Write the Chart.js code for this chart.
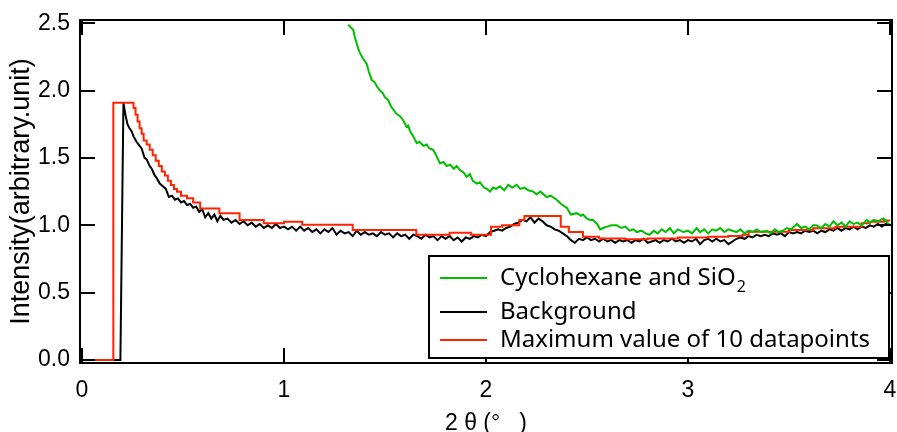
<!DOCTYPE html>
<html>
<head>
<meta charset="utf-8">
<script src="https://cdn.jsdelivr.net/npm/chart.js@4.4.1/dist/chart.umd.min.js"></script>
<style>
  html, body { margin: 0; padding: 0; background: #fff; }
  #wrap { width: 897px; height: 432px; }
</style>
</head>
<body>
<div id="wrap"><canvas id="myChart" width="897" height="432"></canvas></div>
<script>
// values (2theta in degrees, intensity in arbitrary units)
const seriesNames = ['Cyclohexane and SiO', 'Background', 'Maximum value of 10 datapoints'];
const xTickVals = [0, 1, 2, 3, 4];
const yTickVals = [0, 0.5, 1.0, 1.5, 2.0, 2.5];

const greenX = [1.318, 1.33, 1.343, 1.35, 1.36, 1.37, 1.376, 1.39, 1.409, 1.42, 1.434, 1.45, 1.46, 1.475, 1.49, 1.50,
  1.516, 1.53, 1.541, 1.555, 1.574, 1.59, 1.607, 1.615, 1.624, 1.64, 1.657, 1.67, 1.69, 1.706, 1.72, 1.739,
  1.75, 1.772, 1.79, 1.805, 1.822, 1.84, 1.855, 1.871, 1.89, 1.904, 1.92, 1.935, 1.954, 1.97, 1.99, 2.005,
  2.02, 2.035, 2.05, 2.069, 2.09, 2.11, 2.13, 2.152, 2.17, 2.19, 2.21, 2.234, 2.25, 2.27, 2.30, 2.32,
  2.35, 2.37, 2.40, 2.42, 2.45, 2.47, 2.48, 2.50, 2.515, 2.53, 2.55, 2.565, 2.58, 2.60, 2.62, 2.647,
  2.67, 2.69, 2.71, 2.73, 2.746, 2.77, 2.79, 2.81, 2.83, 2.85, 2.87, 2.89, 2.91, 2.93, 2.95, 2.977,
  3.00, 3.02, 3.043, 3.06, 3.08, 3.10, 3.12, 3.14, 3.16, 3.18, 3.20, 3.22, 3.24, 3.26, 3.28, 3.30,
  3.32, 3.34, 3.36, 3.39, 3.41, 3.43, 3.45, 3.47, 3.49, 3.51, 3.54, 3.56, 3.58, 3.60, 3.62, 3.636,
  3.66, 3.68, 3.70, 3.72, 3.74, 3.76, 3.78, 3.80, 3.82, 3.84, 3.86, 3.884, 3.90, 3.92, 3.94, 3.967,
  3.98, 4.00];
const greenY = [2.49, 2.47, 2.45, 2.40, 2.35, 2.30, 2.28, 2.24, 2.20, 2.14, 2.08, 2.06, 2.03, 2.00, 1.98, 1.95,
  1.93, 1.88, 1.86, 1.83, 1.81, 1.78, 1.73, 1.74, 1.70, 1.66, 1.61, 1.62, 1.59, 1.60, 1.57, 1.56,
  1.53, 1.46, 1.47, 1.44, 1.45, 1.42, 1.44, 1.41, 1.39, 1.36, 1.38, 1.33, 1.31, 1.32, 1.28, 1.27,
  1.25, 1.28, 1.27, 1.29, 1.26, 1.30, 1.28, 1.30, 1.27, 1.28, 1.26, 1.25, 1.23, 1.25, 1.21, 1.22,
  1.19, 1.16, 1.13, 1.08, 1.09, 1.07, 1.08, 1.05, 1.04, 1.04, 1.01, 0.97, 0.98, 0.99, 1.00, 1.00,
  0.98, 0.99, 0.96, 0.97, 0.95, 0.96, 0.94, 0.93, 0.96, 0.94, 0.97, 0.95, 0.98, 0.94, 0.97, 0.95,
  0.96, 0.94, 0.98, 0.95, 0.97, 0.94, 0.97, 0.96, 0.98, 0.95, 0.97, 0.96, 0.95, 0.97, 0.94, 0.96,
  0.95, 0.97, 0.95, 0.96, 0.94, 0.97, 0.95, 0.96, 0.98, 0.97, 1.01, 0.98, 0.99, 0.97, 1.00, 1.00,
  0.98, 1.01, 0.99, 1.03, 1.00, 1.02, 0.99, 1.03, 1.01, 1.02, 1.00, 1.04, 1.02, 1.04, 1.03, 1.05,
  1.03, 1.00];

const bgX = [0, 0.19, 0.205, 0.215, 0.225, 0.235, 0.245, 0.255, 0.27, 0.285, 0.295, 0.31, 0.32, 0.335, 0.345, 0.36,
  0.37, 0.385, 0.40, 0.415, 0.43, 0.445, 0.46, 0.475, 0.49, 0.505, 0.52, 0.535, 0.55, 0.565, 0.58, 0.595,
  0.61, 0.625, 0.64, 0.655, 0.67, 0.685, 0.70, 0.72, 0.74, 0.76, 0.78, 0.80, 0.82, 0.84, 0.86, 0.88,
  0.90, 0.92, 0.94, 0.96, 0.98, 1.00, 1.02, 1.04, 1.06, 1.08, 1.10, 1.12, 1.14, 1.16, 1.18, 1.20,
  1.22, 1.24, 1.26, 1.28, 1.30, 1.32, 1.34, 1.36, 1.38, 1.40, 1.42, 1.44, 1.46, 1.48, 1.50, 1.52,
  1.54, 1.56, 1.58, 1.60, 1.62, 1.64, 1.66, 1.68, 1.70, 1.72, 1.74, 1.76, 1.78, 1.80, 1.82, 1.84,
  1.86, 1.88, 1.90, 1.92, 1.94, 1.96, 1.98, 2.00, 2.02, 2.04, 2.06, 2.08, 2.10, 2.12, 2.14, 2.16,
  2.18, 2.20, 2.22, 2.24, 2.26, 2.28, 2.30, 2.32, 2.34, 2.36, 2.38, 2.40, 2.42, 2.44, 2.46, 2.48,
  2.50, 2.52, 2.54, 2.56, 2.58, 2.60, 2.62, 2.64, 2.66, 2.68, 2.70, 2.72, 2.74, 2.76, 2.78, 2.80,
  2.82, 2.84, 2.86, 2.88, 2.90, 2.92, 2.94, 2.96, 2.98, 3.00, 3.02, 3.04, 3.06, 3.08, 3.10, 3.12,
  3.14, 3.16, 3.18, 3.20, 3.22, 3.24, 3.26, 3.28, 3.30, 3.32, 3.34, 3.36, 3.38, 3.40, 3.42, 3.44,
  3.46, 3.48, 3.50, 3.52, 3.54, 3.56, 3.58, 3.60, 3.62, 3.64, 3.66, 3.68, 3.70, 3.72, 3.74, 3.76,
  3.78, 3.80, 3.82, 3.84, 3.86, 3.88, 3.90, 3.92, 3.94, 3.96, 3.98, 4.00];
const bgY = [0, 0, 1.91, 1.82, 1.75, 1.72, 1.70, 1.66, 1.62, 1.59, 1.57, 1.50, 1.49, 1.44, 1.42, 1.37,
  1.35, 1.31, 1.29, 1.27, 1.21, 1.22, 1.19, 1.20, 1.17, 1.18, 1.15, 1.16, 1.13, 1.14, 1.10, 1.12,
  1.06, 1.09, 1.05, 1.08, 1.03, 1.07, 1.04, 1.05, 1.02, 1.04, 1.01, 1.03, 1.00, 1.02, 0.99, 1.01,
  0.98, 1.00, 0.98, 1.01, 0.98, 0.99, 0.97, 0.99, 0.96, 0.99, 0.96, 0.98, 0.95, 0.97, 0.94, 0.97,
  0.95, 0.98, 0.93, 0.96, 0.94, 0.95, 0.92, 0.96, 0.93, 0.95, 0.93, 0.94, 0.92, 0.95, 0.93, 0.94,
  0.91, 0.94, 0.92, 0.93, 0.90, 0.93, 0.92, 0.90, 0.93, 0.91, 0.92, 0.89, 0.92, 0.90, 0.92, 0.89,
  0.91, 0.88, 0.91, 0.90, 0.92, 0.91, 0.93, 0.92, 0.95, 0.96, 0.97, 0.96, 0.98, 0.99, 1.01, 1.02,
  1.04, 1.03, 1.06, 1.02, 1.05, 1.03, 1.00, 0.99, 0.97, 0.96, 0.94, 0.92, 0.89, 0.87, 0.90, 0.89,
  0.91, 0.89, 0.90, 0.88, 0.90, 0.88, 0.89, 0.87, 0.89, 0.88, 0.89, 0.87, 0.89, 0.88, 0.90, 0.87,
  0.88, 0.89, 0.87, 0.89, 0.88, 0.90, 0.88, 0.89, 0.87, 0.89, 0.88, 0.90, 0.86, 0.89, 0.90, 0.88,
  0.90, 0.88, 0.89, 0.86, 0.88, 0.90, 0.91, 0.90, 0.92, 0.91, 0.93, 0.92, 0.93, 0.92, 0.94, 0.93,
  0.94, 0.92, 0.95, 0.94, 0.95, 0.94, 0.96, 0.95, 0.96, 0.94, 0.96, 0.95, 0.97, 0.96, 0.98, 0.96,
  0.98, 0.97, 0.99, 0.97, 0.99, 0.98, 1.00, 0.99, 1.01, 0.99, 1.01, 1.00];

// step curve: each y holds from its x until the next x
const maxX = [0, 0.155, 0.255, 0.265, 0.275, 0.285, 0.295, 0.305, 0.32, 0.335, 0.35, 0.365, 0.38, 0.395, 0.41, 0.425,
  0.44, 0.455, 0.47, 0.49, 0.52, 0.55, 0.585, 0.68, 0.78, 0.90, 1.00, 1.09, 1.34, 1.655, 1.82, 1.925,
  2.025, 2.08, 2.165, 2.19, 2.37, 2.41, 2.48, 2.56, 2.69, 2.80, 2.95, 3.10, 3.20, 3.27, 3.30, 3.50,
  3.62, 3.73, 3.86, 3.90, 3.97, 4.00];
const maxY = [0, 1.91, 1.87, 1.82, 1.77, 1.72, 1.68, 1.63, 1.60, 1.56, 1.52, 1.48, 1.44, 1.40, 1.37, 1.33,
  1.30, 1.27, 1.25, 1.22, 1.20, 1.17, 1.125, 1.09, 1.04, 1.015, 1.027, 1.005, 0.965, 0.93, 0.945, 0.93,
  0.99, 1.0, 1.04, 1.07, 0.99, 0.95, 0.915, 0.903, 0.896, 0.903, 0.91, 0.915, 0.92, 0.93, 0.953, 0.965,
  0.978, 0.99, 1.015, 1.027, 1.035, 1.035];

const colors = ['rgb(0,190,0)', '#000000', 'rgb(255,35,0)'];

const toPoints = (xs, ys) => xs.map((x, i) => ({ x: x, y: ys[i] }));

// keep the plot box where it is in the picture, no room for label overhang
const noOverhang = s => {
  s.paddingLeft = 0; s.paddingRight = 0; s.paddingTop = 0; s.paddingBottom = 0;
};

// inward ticks on all four sides plus the frame
const frameTicks = {
  id: 'frameTicks',
  afterDraw(chart) {
    const ctx = chart.ctx;
    const a = chart.chartArea;
    const xs = chart.scales.x, ys = chart.scales.y;
    const len = 15;
    ctx.save();
    ctx.strokeStyle = '#000';
    ctx.lineWidth = 2;
    ctx.strokeRect(a.left, a.top, a.right - a.left, a.bottom - a.top);
    ctx.beginPath();
    xTickVals.forEach(v => {
      const px = Math.round(xs.getPixelForValue(v));
      ctx.moveTo(px, a.bottom); ctx.lineTo(px, a.bottom - len);
      ctx.moveTo(px, a.top); ctx.lineTo(px, a.top + len);
    });
    yTickVals.forEach(v => {
      const py = Math.round(ys.getPixelForValue(v));
      ctx.moveTo(a.left, py); ctx.lineTo(a.left + len, py);
      ctx.moveTo(a.right, py); ctx.lineTo(a.right - len, py);
    });
    ctx.stroke();
    ctx.restore();
  }
};

// boxed legend in the lower right of the plot
const boxLegend = {
  id: 'boxLegend',
  afterDraw(chart) {
    const ctx = chart.ctx;
    const bx = 429, by = 256, bw = 460, bh = 102;
    const rows = [278, 312, 340];
    ctx.save();
    ctx.fillStyle = '#fff';
    ctx.fillRect(bx, by, bw, bh);
    ctx.strokeStyle = '#000';
    ctx.lineWidth = 2;
    ctx.strokeRect(bx, by, bw, bh);
    ctx.textBaseline = 'middle';
    rows.forEach((ry, i) => {
      ctx.strokeStyle = colors[i];
      ctx.beginPath();
      ctx.moveTo(440, ry); ctx.lineTo(487, ry);
      ctx.stroke();
      ctx.fillStyle = '#000';
      ctx.font = '24px "Noto Sans"';
      ctx.fillText(seriesNames[i], 500, ry);
      if (i === 0) {
        const w = ctx.measureText(seriesNames[i]).width;
        ctx.font = '16px "Noto Sans"';
        ctx.fillText('2', 500 + w + 1, ry + 9);
      }
    });
    ctx.restore();
  }
};

new Chart(document.getElementById('myChart'), {
  type: 'line',
  data: {
    datasets: [
      { label: seriesNames[0] + '2', data: toPoints(greenX, greenY), borderColor: colors[0], order: 0 },
      { label: seriesNames[1], data: toPoints(bgX, bgY), borderColor: colors[1], order: 2 },
      { label: seriesNames[2], data: toPoints(maxX, maxY), borderColor: colors[2], stepped: true, order: 1 }
    ]
  },
  options: {
    responsive: false,
    animation: false,
    layout: { padding: { top: 20, right: 5, bottom: 0, left: 0 } },
    elements: {
      point: { radius: 0 },
      line: { borderWidth: 2, tension: 0 }
    },
    plugins: { legend: { display: false }, tooltip: { enabled: false } },
    scales: {
      x: {
        type: 'linear',
        min: -0.01, max: 4.01,
        afterBuildTicks: s => { s.ticks = xTickVals.map(v => ({ value: v })); },
        afterFit: s => { s.height = 69; noOverhang(s); },
        grid: { display: false, drawTicks: false },
        border: { display: false },
        ticks: {
          padding: 14, color: '#000', maxRotation: 0,
          font: { family: '"Liberation Sans", Arial', size: 23 },
          callback: v => String(v)
        },
        title: {
          display: true, text: '2 θ (°   )', color: '#000',
          font: { family: '"Liberation Sans", Arial', size: 23, lineHeight: 0.75 },
          padding: { top: 0, bottom: 0 }
        }
      },
      y: {
        type: 'linear',
        min: -0.022, max: 2.524,
        afterBuildTicks: s => { s.ticks = yTickVals.map(v => ({ value: v })); },
        afterFit: s => { s.width = 80; noOverhang(s); },
        grid: { display: false, drawTicks: false },
        border: { display: false },
        ticks: {
          padding: 10, color: '#000',
          font: { family: '"Liberation Sans", Arial', size: 23 },
          callback: v => v.toFixed(1)
        },
        title: {
          display: true, text: 'Intensity(arbitrary.unit)', color: '#000',
          font: { family: '"Liberation Sans", Arial', size: 27, lineHeight: 1 },
          padding: { top: 8, bottom: 0 }
        }
      }
    }
  },
  plugins: [frameTicks, boxLegend]
});
</script>
</body>
</html>
